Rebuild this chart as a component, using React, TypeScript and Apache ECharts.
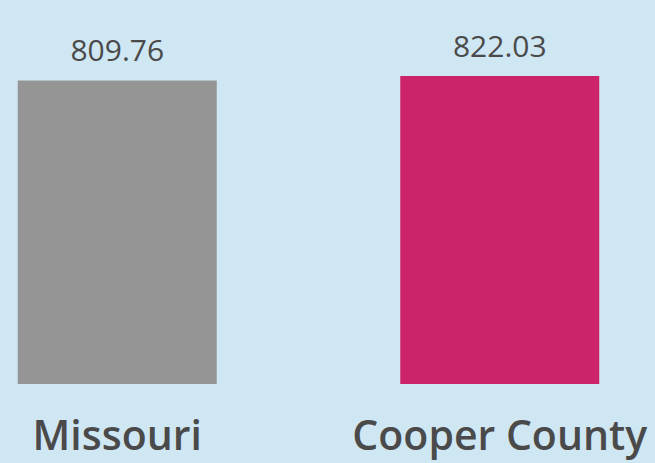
import React, { useEffect, useRef } from "react";
import * as echarts from "echarts";

const categories = ["Missouri", "Cooper County"];
const values = [809.76, 822.03];
const barColors = ["#959595", "#cc246a"];

export default function App() {
  const ref = useRef<HTMLDivElement>(null);
  useEffect(() => {
    const chart = echarts.init(ref.current!, null, { renderer: "svg" });
    chart.setOption({
      animation: false,
      backgroundColor: "#cfe6f3",
      grid: { left: -74, right: -36, top: 76, bottom: 79, outerBoundsMode: "none", containLabel: false },
      xAxis: {
        type: "category",
        data: categories,
        axisLine: { show: false },
        axisTick: { show: false },
        axisLabel: {
          color: "#4a4a4a",
          fontFamily: "Open Sans",
          fontWeight: 600,
          fontSize: 41,
          margin: 29,
          interval: 0,
          hideOverlap: false,
        },
      },
      yAxis: {
        type: "value",
        min: 0,
        max: 822.03,
        show: false,
        splitLine: { show: false },
      },
      series: [
        {
          type: "bar",
          data: values.map((v, i) => ({ value: v, itemStyle: { color: barColors[i] } })),
          barWidth: 199,
          label: {
            show: true,
            position: "top",
            distance: 16,
            color: "#4a4a4a",
            fontFamily: "Open Sans",
            fontWeight: 500,
            fontSize: 30,
            formatter: (p: any) => p.value.toFixed(2),
          },
        },
      ],
    });
    return () => chart.dispose();
  }, []);
  return <div ref={ref} style={{ width: 655, height: 463, position: "fixed", left: 0, top: 0 }} />;
}
